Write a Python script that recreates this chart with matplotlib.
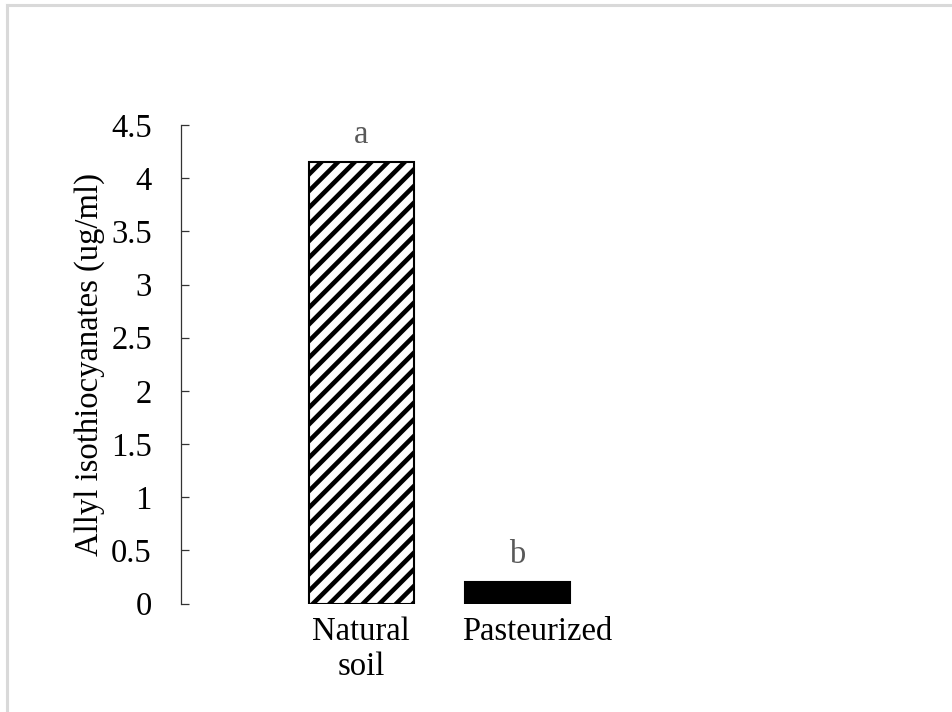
import matplotlib
matplotlib.use("Agg")
import matplotlib.pyplot as plt
import matplotlib.transforms as mtransforms
from matplotlib.lines import Line2D

# ==== data ====
categories = ["Natural\nsoil", "Pasteurized"]
values = [4.15, 0.2]
letters = ["a", "b"]
hatches = ["//", None]
colors = ["white", "black"]
yticks = [0, 0.5, 1, 1.5, 2, 2.5, 3, 3.5, 4, 4.5]
ytick_labels = ["0", "0.5", "1", "1.5", "2", "2.5", "3", "3.5", "4", "4.5"]

plt.rcParams['font.family'] = ['Liberation Serif', 'DejaVu Serif']
plt.rcParams['hatch.linewidth'] = 3.3
FS = 23.5

W, H = 952, 712
fig = plt.figure(figsize=(W / 100, H / 100), dpi=100)

# light frame (top + left only)
fig.add_artist(Line2D([6.5 / W, 6.5 / W], [0, 1 - 4.5 / H], color="#d9d9d9", lw=2.2))
fig.add_artist(Line2D([6.5 / W, 1], [1 - 4.5 / H, 1 - 4.5 / H], color="#d9d9d9", lw=2.2))

ax_l, ax_r, ax_t, ax_b = 181, 870, 125, 603.5
ax = fig.add_axes([ax_l / W, 1 - ax_b / H, (ax_r - ax_l) / W, (ax_b - ax_t) / H])

unit = 156.0
x0 = -(361 - ax_l) / unit
ax.set_xlim(x0, x0 + (ax_r - ax_l) / unit)
ax.set_ylim(0, 4.5)

pos = list(range(len(categories)))
for i, v in enumerate(values):
    ax.bar(pos[i], v, width=105 / unit, color=colors[i], edgecolor="black",
           linewidth=1.5, hatch=hatches[i], zorder=2)
    ax.annotate(letters[i], (pos[i], v), xytext=(0, 13.7), textcoords="offset points",
                ha="center", va="baseline", fontsize=FS, color="#595959")

for s in ["top", "right", "bottom"]:
    ax.spines[s].set_visible(False)
ax.spines["left"].set_linewidth(0.9)
ax.spines["left"].set_color("#333333")

ax.set_yticks(yticks)
ax.set_yticklabels(ytick_labels, fontsize=FS)
ax.tick_params(axis="y", direction="in", length=6, width=0.9, color="#333333", pad=21)
ax.set_xticks(pos)
ax.set_xticklabels(categories, fontsize=FS, linespacing=1.2)
ax.tick_params(axis="x", length=0, pad=9)

# second label sits a little right of its bar in the original
lbl = ax.get_xticklabels()[1]
lbl.set_transform(lbl.get_transform() + mtransforms.ScaledTranslation(20 / 100, 0, fig.dpi_scale_trans))

ax.set_ylabel("Allyl isothiocyanates (ug/ml)", fontsize=FS, labelpad=4.5)

fig.savefig("out.png", dpi=100)
